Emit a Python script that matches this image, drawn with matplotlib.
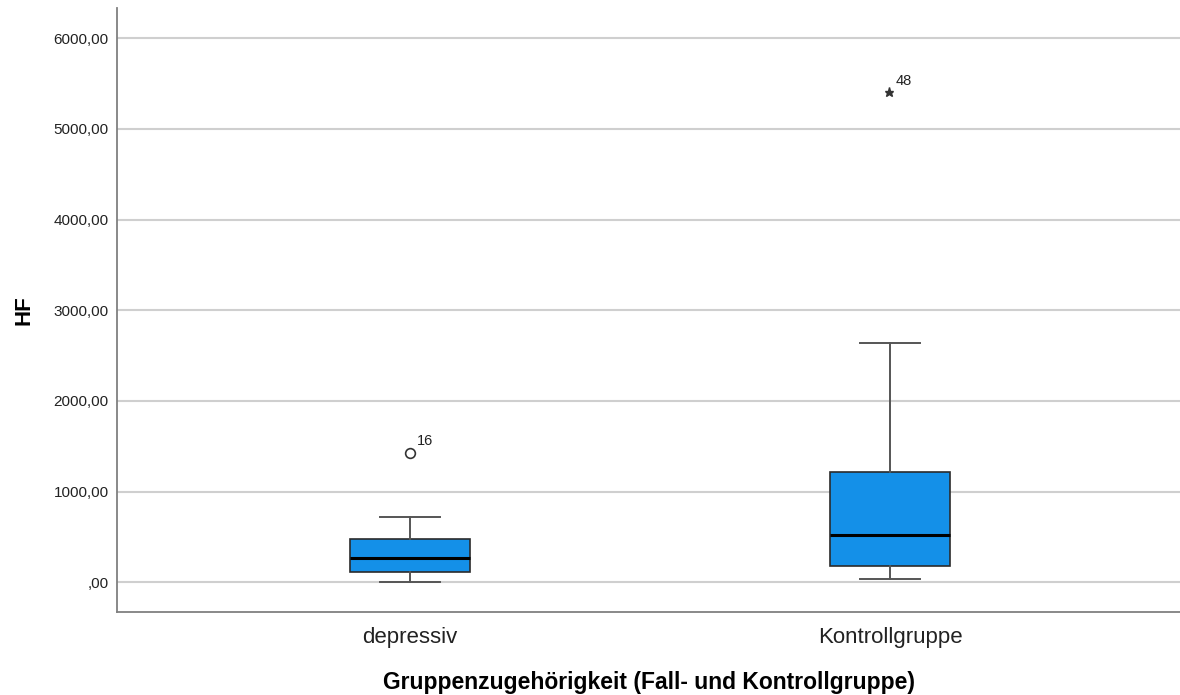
import matplotlib.pyplot as plt
from matplotlib.ticker import FuncFormatter

plt.rcParams['font.family'] = ['Liberation Sans', 'DejaVu Sans']

groups = ['depressiv', 'Kontrollgruppe']
whisker_low = [7, 33]
q1 = [110, 183]
median = [265, 522]
q3 = [474, 1213]
whisker_high = [723, 2636]

outlier_group = [0]
outlier_value = [1423]
outlier_case = ['16']
extreme_group = [1]
extreme_value = [5411]
extreme_case = ['48']

yticks = [0, 1000, 2000, 3000, 4000, 5000, 6000]

positions = [1, 2]
stats = []
for i in range(len(groups)):
    stats.append({'label': groups[i], 'whislo': whisker_low[i], 'q1': q1[i],
                  'med': median[i], 'q3': q3[i], 'whishi': whisker_high[i],
                  'fliers': []})

fig = plt.figure(figsize=(11.8, 6.95), dpi=100)
ax = fig.add_axes([0.0992, 0.1194, 0.9008, 0.8691])

for y in yticks:
    ax.axhline(y, color='#cfcfcf', lw=1.5, zorder=0)

ax.bxp(stats, positions=positions, widths=0.25, patch_artist=True,
       boxprops=dict(facecolor='#1490e8', edgecolor='#2b2b2b', lw=1.2),
       medianprops=dict(color='black', lw=2.2),
       whiskerprops=dict(color='#555555', lw=1.4),
       capprops=dict(color='#555555', lw=1.4),
       capwidths=0.125, zorder=3)

for g, v, c in zip(outlier_group, outlier_value, outlier_case):
    ax.plot(positions[g], v, 'o', mfc='white', mec='#333333', ms=7, mew=1.2)
    ax.annotate(c, (positions[g], v), xytext=(5, 6), textcoords='offset points',
                fontsize=10.5, color='#222222')
for g, v, c in zip(extreme_group, extreme_value, extreme_case):
    ax.plot(positions[g] - 0.002, v, '*', color='#333333', ms=6.5)
    ax.annotate(c, (positions[g], v), xytext=(4, 5), textcoords='offset points',
                fontsize=10.5, color='#222222')

ax.set_xlim(0.39, 2.604)
ax.set_ylim(-328, 6334)
ax.set_yticks(yticks)


def de_format(v, pos):
    if v == 0:
        return ',00'
    return ('%.2f' % v).replace('.', ',')


ax.yaxis.set_major_formatter(FuncFormatter(de_format))
ax.tick_params(axis='both', length=0)
ax.tick_params(axis='y', labelsize=11, colors='#222222', pad=6)
ax.tick_params(axis='x', labelsize=16, colors='#222222', pad=11)

for s in ['top', 'right']:
    ax.spines[s].set_visible(False)
for s in ['left', 'bottom']:
    ax.spines[s].set_color('#808080')
    ax.spines[s].set_linewidth(1.3)

ax.set_xlabel('Gruppenzugehörigkeit (Fall- und Kontrollgruppe)',
              fontsize=16.5, fontweight='bold', labelpad=16)
ax.set_ylabel('HF', fontsize=16, fontweight='bold', labelpad=14)

fig.savefig('out.png', dpi=100)
